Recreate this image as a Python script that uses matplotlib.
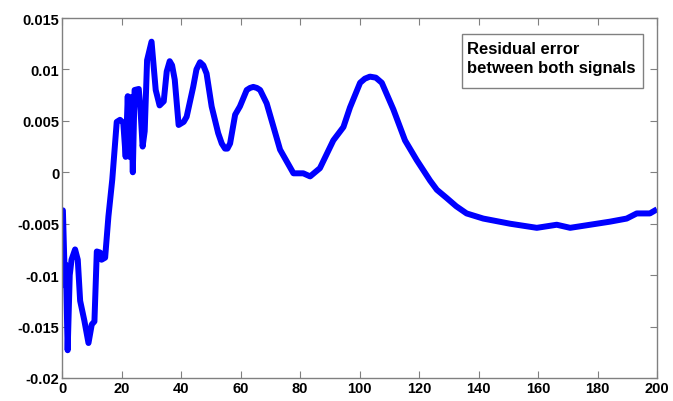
import numpy as np
import matplotlib as mpl
mpl.use('Agg')
import matplotlib.pyplot as plt
from matplotlib.patches import Rectangle

mpl.rcParams.update({
    'font.family': ['Liberation Sans', 'DejaVu Sans'],
    'font.weight': 'bold',
    'font.size': 10.5,
})

# residual error
t = [0, 0.3, 1.0, 1.3, 1.9, 2.6, 3.2, 4.4, 5.3, 6.1, 7.5, 8.9, 10.0, 10.9,
     11.7, 12.8, 13.3, 14.5, 15.6, 16.9, 18.4, 19.5, 20.6, 21.4, 22.1, 22.7,
     23.2, 23.8, 24.4, 25.8, 26.4, 27.1, 27.8, 28.6, 30.1, 31.5, 32.8, 34.2,
     35.2, 36.2, 37.0, 37.9, 39.2, 40.9, 41.9, 44.1, 45.2, 46.4, 47.5, 48.6,
     50.3, 52.5, 53.7, 54.8, 55.6, 56.5, 58.2, 59.8, 62.1, 63.2, 64.3, 65.5,
     66.6, 68.8, 73.3, 77.8, 81.1, 83.4, 86.7, 91.2, 94.6, 96.8, 100.2, 101.8,
     103.5, 105.5, 107.5, 111.4, 115.3, 119.2, 123.7, 126.0, 129.3, 132.5,
     136.0, 141.6, 150.6, 159.6, 166.3, 170.8, 177.5, 184.2, 189.8, 193.2,
     197.6, 200]
err = [-0.0037, -0.0037, -0.0110, -0.0090, -0.0173, -0.0100, -0.0085, -0.0075,
       -0.0085, -0.0125, -0.0144, -0.0166, -0.0148, -0.0145, -0.0077, -0.0078,
       -0.0085, -0.0083, -0.0043, -0.0007, 0.0049, 0.0051, 0.0048, 0.0015,
       0.0074, 0.0015, 0.0073, 0.0000, 0.0080, 0.0081, 0.0060, 0.0025, 0.0040,
       0.0109, 0.0127, 0.0080, 0.0065, 0.0069, 0.0098, 0.0108, 0.0104, 0.0090,
       0.0046, 0.0049, 0.0054, 0.0083, 0.0100, 0.0107, 0.0104, 0.0096, 0.0064,
       0.0038, 0.0028, 0.0023, 0.0023, 0.0028, 0.0056, 0.0064, 0.0080, 0.0082,
       0.0083, 0.0082, 0.0080, 0.0067, 0.0022, -0.0001, -0.0001, -0.0004,
       0.0004, 0.0031, 0.0044, 0.0063, 0.0087, 0.0091, 0.0093, 0.0092, 0.0087,
       0.0061, 0.0031, 0.0012, -0.0008, -0.0017, -0.0025, -0.0033, -0.0040,
       -0.0045, -0.0050, -0.0054, -0.0051, -0.0054, -0.0051, -0.0048, -0.0045,
       -0.0040, -0.0040, -0.0036]

xticks = np.arange(0, 201, 20)
yticks = [-0.02, -0.015, -0.01, -0.005, 0, 0.005, 0.01, 0.015]
ylabels = ['-0.02', '-0.015', '-0.01', '-0.005', '0', '0.005', '0.01', '0.015']

fig = plt.figure(figsize=(6.73, 4.02), dpi=100)
ax = fig.add_axes([62/673, 1 - 379/402, 595/673, 360/402])

ax.plot(t, err, color='#0000ff', lw=4.3, solid_joinstyle='round', solid_capstyle='butt')

ax.set_xlim(0, 200)
ax.set_ylim(-0.02, 0.015)
ax.set_xticks(xticks)
ax.set_yticks(yticks)
ax.set_yticklabels(ylabels)
ax.tick_params(direction='in', length=5, width=0.8, color='#808080',
               top=True, right=True, labelsize=10.5, pad=2)
for s in ax.spines.values():
    s.set_color('#808080')
    s.set_linewidth(1.0)

# legend-like box
fig.patches.append(Rectangle((462/673, 1 - 89/402), 181/673, 54/402,
                             transform=fig.transFigure, fc='white',
                             ec='#808080', lw=1.0, zorder=5))
fig.text(467/673, 1 - 42/402, 'Residual error\nbetween both signals',
         ha='left', va='top', fontsize=12, fontweight='bold',
         linespacing=1.3, zorder=6)

fig.savefig('out.png', dpi=100)
